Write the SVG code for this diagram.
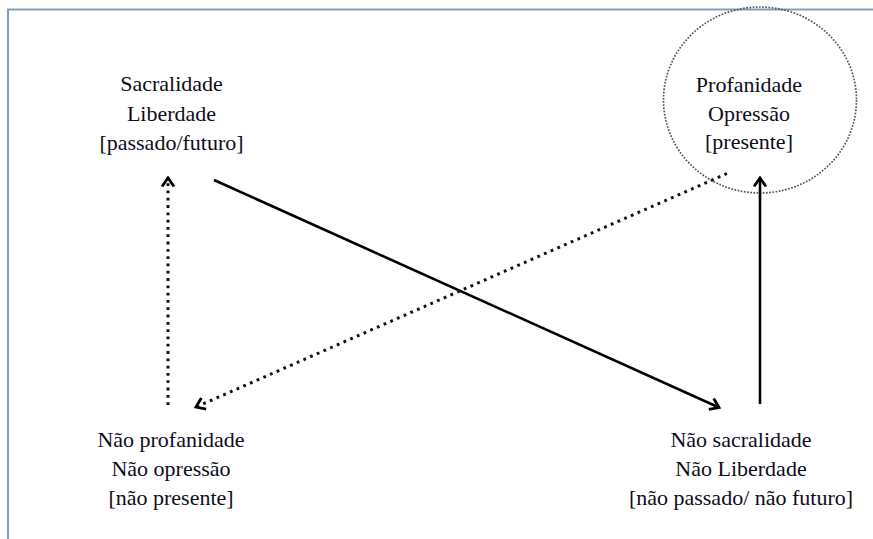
<svg xmlns="http://www.w3.org/2000/svg" width="873" height="539" viewBox="0 0 873 539">
<style>
.t{font-family:"Liberation Serif","Times New Roman",serif;font-size:22px;fill:#0d0d1a;text-anchor:middle}
.solid{stroke:#000;stroke-width:2.6;fill:none}
.dot{stroke:#111;stroke-width:3;fill:none;stroke-dasharray:2.8 4.5}
</style>
<defs>
<marker id="ah" markerUnits="userSpaceOnUse" markerWidth="14" markerHeight="16" viewBox="0 0 14 16" refX="10" refY="8" orient="auto" overflow="visible">
<path d="M1.5,2 L10,8 L1.5,14" fill="none" stroke="#000" stroke-width="2.8" stroke-linejoin="miter"/>
</marker>
</defs>
<rect x="0" y="0" width="873" height="539" fill="#fff"/>
<g id="frame">
<path d="M8,539 L8,9.5 L873,9.5" fill="none" stroke="#7f9fc2" stroke-width="2"/>
</g>
<g id="circle-presente">
<ellipse cx="760" cy="100" rx="96.5" ry="93" fill="none" stroke="#555" stroke-width="1.7" stroke-dasharray="1.7 1.5"/>
</g>
<g id="connectors">
<line class="dot" x1="168" y1="405" x2="168" y2="178" marker-end="url(#ah)"/>
<line class="solid" x1="214" y1="180" x2="719" y2="407.5" marker-end="url(#ah)"/>
<line class="solid" x1="760" y1="404" x2="760" y2="178" marker-end="url(#ah)"/>
<line class="dot" x1="727" y1="173.5" x2="196" y2="407" marker-end="url(#ah)"/>
</g>
<g id="node-sacralidade">
<text class="t" x="171.5" y="91">Sacralidade</text>
<text class="t" x="171.5" y="120.5">Liberdade</text>
<text class="t" x="171.5" y="149.5">[passado/futuro]</text>
</g>
<g id="node-profanidade">
<text class="t" x="749" y="91.5">Profanidade</text>
<text class="t" x="749" y="120.5">Opressão</text>
<text class="t" x="749" y="149">[presente]</text>
</g>
<g id="node-nao-profanidade">
<text class="t" x="171" y="447">Não profanidade</text>
<text class="t" x="171" y="476">Não opressão</text>
<text class="t" x="171" y="504.5">[não presente]</text>
</g>
<g id="node-nao-sacralidade">
<text class="t" x="741" y="447">Não sacralidade</text>
<text class="t" x="741" y="476">Não Liberdade</text>
<text class="t" x="741" y="504.5">[não passado/ não futuro]</text>
</g>
</svg>
